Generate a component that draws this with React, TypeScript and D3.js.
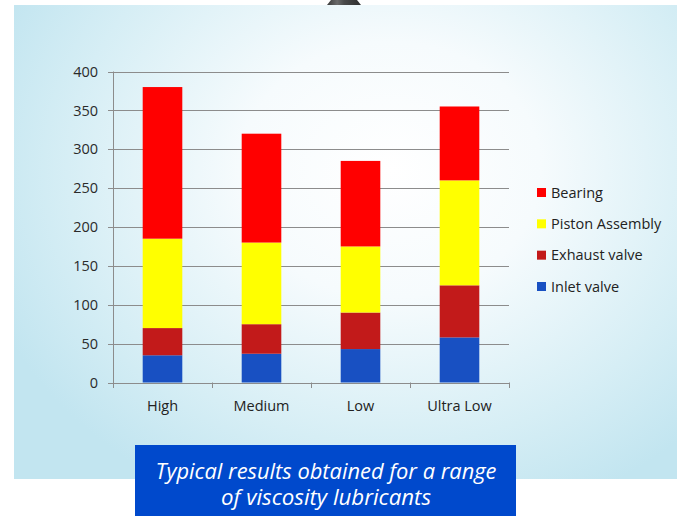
import * as d3 from "d3";

const categories = ["High", "Medium", "Low", "Ultra Low"];
const inletValve = [35, 37, 43, 58];
const exhaustValve = [35, 38, 47, 67];
const pistonAssembly = [115, 105, 85, 135];
const bearing = [195, 140, 110, 95];
const yTicks = [0, 50, 100, 150, 200, 250, 300, 350, 400];

const seriesKeys = ["Inlet valve", "Exhaust valve", "Piston Assembly", "Bearing"];
const seriesColors = ["#1850c2", "#c21a1a", "#ffff00", "#ff0000"];
const legendOrder = ["Bearing", "Piston Assembly", "Exhaust valve", "Inlet valve"];

const captionLines = ["Typical results obtained for a range", "of viscosity lubricants"];

const W = 677;
const H = 516;

export default function App() {
  const rows = categories.map((c, i) => ({
    category: c,
    "Inlet valve": inletValve[i],
    "Exhaust valve": exhaustValve[i],
    "Piston Assembly": pistonAssembly[i],
    Bearing: bearing[i],
  }));

  const stacked = d3.stack<any>().keys(seriesKeys)(rows);

  const x = d3
    .scaleBand<string>()
    .domain(categories)
    .range([113, 509])
    .paddingInner(0.6)
    .paddingOuter(0.3);
  // boundaries for category ticks (no padding)
  const xb = d3.scaleBand<string>().domain(categories).range([113, 509]);
  const y = d3.scaleLinear().domain([0, 400]).range([382.5, 71.5]);
  const color = d3.scaleOrdinal<string>().domain(seriesKeys).range(seriesColors);

  const legendY = d3
    .scalePoint<string>()
    .domain(legendOrder)
    .range([192.5, 286.5]);

  const font = "'Open Sans', 'DejaVu Sans', sans-serif";

  return (
    <svg
      width={W}
      height={H}
      style={{ position: "absolute", left: 0, top: 0, background: "#fff" }}
    >
      <defs>
        <radialGradient
          id="bg"
          gradientUnits="userSpaceOnUse"
          cx={390}
          cy={170}
          r={430}
          gradientTransform="translate(390,170) scale(1,0.85) translate(-390,-170)"
        >
          <stop offset="0" stopColor="#ffffff" />
          <stop offset="0.35" stopColor="#f6fbfd" />
          <stop offset="0.75" stopColor="#d6eef5" />
          <stop offset="1" stopColor="#c2e5f0" />
        </radialGradient>
        <linearGradient id="cone" x1="0" x2="1" y1="0" y2="0">
          <stop offset="0" stopColor="#3a3a3a" />
          <stop offset="0.3" stopColor="#6a6a6a" />
          <stop offset="0.5" stopColor="#4a4a4a" />
          <stop offset="1" stopColor="#2e2e2e" />
        </linearGradient>
      </defs>

      <rect x={14} y={5} width={W - 14} height={474} fill="url(#bg)" />
      <path d="M331,0 L357,0 L361,5 L327,5 Z" fill="url(#cone)" />

      {/* gridlines */}
      {yTicks.map((t) => (
        <g key={t}>
          <line
            x1={108}
            x2={509}
            y1={Math.round(y(t)) + 0.5}
            y2={Math.round(y(t)) + 0.5}
            stroke="#8c8c8c"
            strokeWidth={1}
          />
          <text
            x={98}
            y={y(t)}
            dy="0.36em"
            textAnchor="end"
            fontFamily={font}
            fontSize={14.5}
            fill="#2a2a2a"
          >
            {t}
          </text>
        </g>
      ))}
      <line x1={113.5} x2={113.5} y1={71.5} y2={388} stroke="#8c8c8c" />
      {categories.map((c) => (
        <line
          key={c}
          x1={Math.round(xb(c)! + xb.bandwidth()) + 0.5}
          x2={Math.round(xb(c)! + xb.bandwidth()) + 0.5}
          y1={382.5}
          y2={388}
          stroke="#8c8c8c"
        />
      ))}

      {/* bars */}
      {stacked.map((s) => (
        <g key={s.key} fill={color(s.key)}>
          {s.map((d, i) => (
            <rect
              key={i}
              x={x(categories[i])}
              width={x.bandwidth()}
              y={y(d[1])}
              height={y(d[0]) - y(d[1])}
            />
          ))}
        </g>
      ))}

      {categories.map((c) => (
        <text
          key={c}
          x={x(c)! + x.bandwidth() / 2}
          y={410.5}
          textAnchor="middle"
          fontFamily={font}
          fontSize={14.5}
          fill="#222"
        >
          {c}
        </text>
      ))}

      {/* legend */}
      {legendOrder.map((k) => (
        <g key={k} transform={`translate(537,${legendY(k)})`}>
          <rect x={0} y={-4.5} width={9} height={9} fill={color(k)} />
          <text
            x={14}
            y={0}
            dy="0.36em"
            fontFamily={font}
            fontSize={14.5}
            fill="#222"
          >
            {k}
          </text>
        </g>
      ))}

      {/* caption */}
      <rect x={135} y={445} width={381} height={71} fill="#0049cc" />
      {captionLines.map((line, i) => (
        <text
          key={i}
          x={326}
          y={479 + i * 26}
          textAnchor="middle"
          fontFamily={font}
          fontStyle="italic"
          fontSize={22}
          fill="#fff"
          textLength={i === 0 ? 341 : 210}
          lengthAdjust="spacingAndGlyphs"
        >
          {line}
        </text>
      ))}
    </svg>
  );
}
